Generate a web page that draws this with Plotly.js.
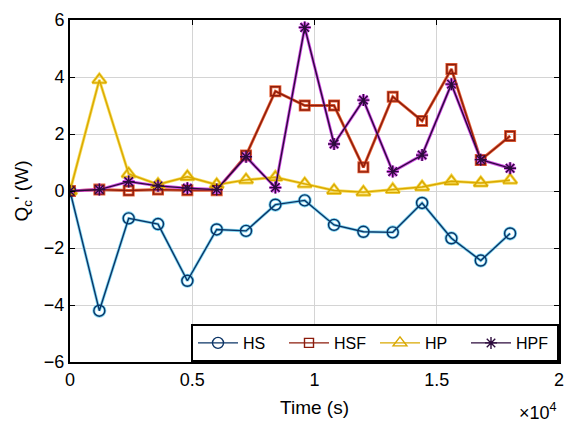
<!DOCTYPE html>
<html>
<head>
<meta charset="utf-8">
<script src="https://cdn.plot.ly/plotly-3.0.1.min.js"></script>
<style>
  html, body { margin: 0; padding: 0; background: #fff; }
  #chart { width: 569px; height: 426px; }
</style>
</head>
<body>
<div id="chart"></div>
<script>
// Sampling times (s)
const time = [0, 1200, 2400, 3600, 4800, 6000, 7200, 8400, 9600, 10800, 12000, 13200, 14400, 15600, 16800, 18000];

// Cooling power Qc' (W) for each configuration
const hs  = [0, -4.2, -0.96, -1.16, -3.15, -1.35, -1.4, -0.48, -0.33, -1.19, -1.43, -1.45, -0.42, -1.66, -2.44, -1.49];
const hsf = [0, 0.05, 0.02, 0.05, 0.03, 0.03, 1.25, 3.5, 3.0, 3.0, 0.83, 3.31, 2.46, 4.28, 1.09, 1.93];
const hp  = [0, 3.9, 0.6, 0.23, 0.5, 0.22, 0.39, 0.48, 0.25, 0.02, -0.04, 0.05, 0.14, 0.34, 0.28, 0.38];
const hpf = [0, 0.05, 0.33, 0.18, 0.1, 0.05, 1.2, 0.12, 5.74, 1.65, 3.19, 0.68, 1.26, 3.75, 1.1, 0.8];

const seriesNames = ['HS', 'HSF', 'HP', 'HPF'];
const xTickVals = [0, 5000, 10000, 15000, 20000];
const xTickText = ['0', '0.5', '1', '1.5', '2'];

// Each series: a soft coloured halo underneath, a darker core line on top
const styles = [
  { y: hs,  core: '#0b3466', halo: '#7fd6f2', symbol: 'circle-open',      size: 11 },
  { y: hsf, core: '#8c1c0c', halo: '#e8643a', symbol: 'square-open',      size: 9 },
  { y: hp,  core: '#d9a800', halo: '#f7dc5a', symbol: 'triangle-up-open', size: 12 },
  { y: hpf, core: '#2c0b3c', halo: '#d24be6', symbol: 'asterisk-open',    size: 10 }
];

const traces = [];
styles.forEach((s, i) => {
  traces.push({
    x: time, y: s.y, type: 'scatter', mode: 'lines+markers',
    name: seriesNames[i], showlegend: false, hoverinfo: 'skip',
    line: { color: s.halo, width: 3 },
    marker: { symbol: s.symbol, size: s.size, color: s.halo, line: { color: s.halo, width: 3 } }
  });
});
styles.forEach((s, i) => {
  traces.push({
    x: time, y: s.y, type: 'scatter', mode: 'lines+markers',
    name: seriesNames[i],
    line: { color: s.core, width: 1.4 },
    marker: { symbol: s.symbol, size: s.size, color: s.core, line: { color: s.core, width: 1.4 } }
  });
});

const font = { family: 'Liberation Sans, Arial, Helvetica, sans-serif', color: '#000' };

const layout = {
  width: 569, height: 426,
  margin: { l: 70, r: 10, t: 20, b: 64 },
  paper_bgcolor: '#fff', plot_bgcolor: '#fff',
  font: Object.assign({ size: 17 }, font),
  xaxis: {
    range: [0, 20000],
    tickvals: xTickVals, ticktext: xTickText,
    ticks: 'inside', ticklen: 5, tickwidth: 1, tickcolor: '#000',
    showline: true, linecolor: '#000', linewidth: 2, mirror: 'ticks',
    showgrid: true, gridcolor: '#d4d4d4', gridwidth: 1,
    zeroline: false,
    tickfont: Object.assign({ size: 18 }, font),
    title: { text: 'Time (s)', font: Object.assign({ size: 19 }, font), standoff: 12 }
  },
  yaxis: {
    range: [-6, 6],
    tickvals: [-6, -4, -2, 0, 2, 4, 6],
    ticks: 'inside', ticklen: 5, tickwidth: 1, tickcolor: '#000',
    showline: true, linecolor: '#000', linewidth: 2, mirror: 'ticks',
    showgrid: true, gridcolor: '#d4d4d4', gridwidth: 1,
    zeroline: false,
    tickfont: Object.assign({ size: 18 }, font),
    title: { text: "Q<sub>c</sub>' (W)", font: Object.assign({ size: 19 }, font), standoff: 10 }
  },
  legend: {
    orientation: 'h',
    x: 1, xanchor: 'right', y: 0, yanchor: 'bottom',
    bgcolor: '#fff', bordercolor: '#000', borderwidth: 2,
    font: Object.assign({ size: 16 }, font),
    itemwidth: 40, tracegroupgap: 0,
    entrywidth: 36, entrywidthmode: 'pixels'
  },
  annotations: [{
    text: '\u00d710<sup>4</sup>', xref: 'paper', yref: 'paper',
    x: 1.0, y: -0.105, xanchor: 'right', yanchor: 'top', showarrow: false,
    font: Object.assign({ size: 18 }, font)
  }],
  showlegend: true
};

Plotly.newPlot('chart', traces, layout, { displayModeBar: false, staticPlot: true });
</script>
</body>
</html>
